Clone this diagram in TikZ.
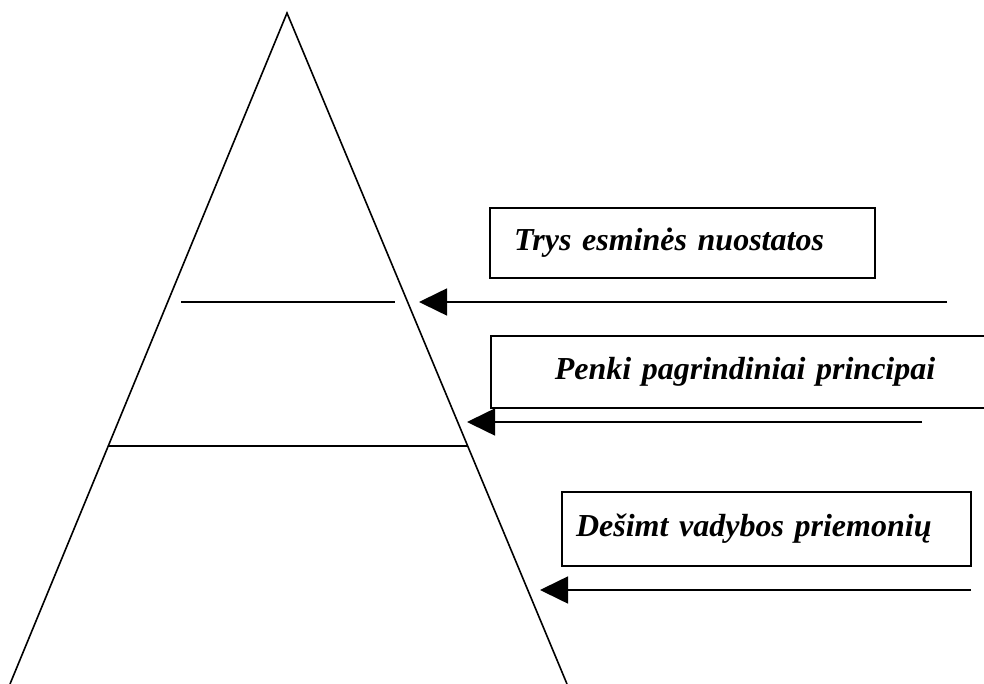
\documentclass[tikz,border=0pt]{standalone}
\usepackage{fontspec}
\setmainfont{Liberation Serif}
\usetikzlibrary{arrows.meta}

\begin{document}
\begin{tikzpicture}[x=1pt, y=-1pt, line width=1.6pt,
    box/.style={draw, rectangle, inner ysep=0pt, font=\fontsize{32}{36}\selectfont\bfseries\itshape},
    arr/.style={-{Triangle[length=28pt, width=27pt]}}]
    \useasboundingbox (0,0) rectangle (984,684);
    % pyramid
    \coordinate (top) at (287,13);
    \coordinate (bl) at (10,684);
    \coordinate (br) at (567,684);
    \draw (bl) -- (top) -- (br);
    \coordinate (u1) at (181,302);
    \coordinate (u2) at (395,302);
    \coordinate (m1) at (108,446);
    \coordinate (m2) at (467,446);
    \draw (u1) -- (u2);
    \draw (m1) -- (m2);
    % labels
    \node[box, minimum width=385pt, minimum height=70pt, text width=337pt, inner xsep=24pt, align=left] (b1) at (682.5,243) {Trys esminės nuostatos};
    \node[box, minimum width=508pt, minimum height=72pt, text width=470pt, inner xsep=19pt, align=center] (b2) at (745,372) {Penki pagrindiniai principai};
    \node[box, minimum width=409pt, minimum height=74pt, text width=381pt, inner xsep=14pt, align=left] (b3) at (766.5,529) {Dešimt vadybos priemonių};
    % arrows
    \foreach \i/\xs/\xt/\y in {1/947/419/302, 2/922/467/422, 3/971/540/590} {
        \coordinate (s\i) at (\xs,\y);
        \coordinate (t\i) at (\xt,\y);
        \draw[arr] (s\i) -- (t\i);
    }
\end{tikzpicture}
\end{document}
